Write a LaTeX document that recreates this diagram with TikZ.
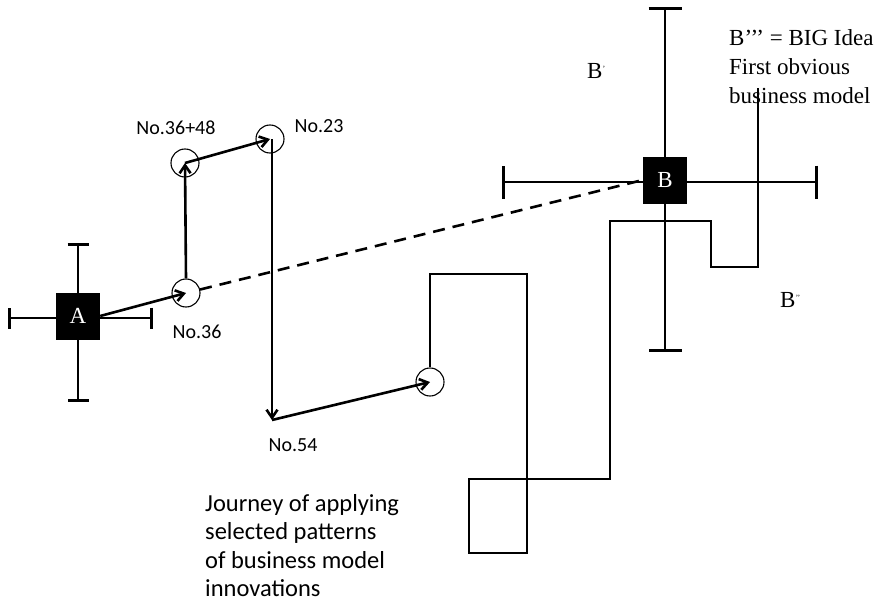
\documentclass[tikz,border=0pt]{standalone}
\usepackage{fontspec}
\setmainfont{Liberation Serif}
\newfontfamily\calfont{Carlito}
\usetikzlibrary{arrows.meta}
\begin{document}
\begin{tikzpicture}[x=1pt,y=-1pt,
  conn/.style={line width=2.6pt,line join=miter},
  arr/.style={conn,-{Straight Barb[length=8pt,width=11pt]}},
  smallbar/.style={conn,{Bar[width=21pt]}-{Bar[width=21pt]}},
  bigbar/.style={conn,{Bar[width=33pt]}-{Bar[width=33pt]}},
  box/.style={fill=black,text=white,minimum width=44pt,minimum height=47pt,inner sep=0pt,font=\fontsize{23}{24}\selectfont},
  ring/.style={circle,draw,line width=1.1pt,minimum size=28pt,inner sep=0pt},
  lbl/.style={font=\calfont\fontsize{20}{24}\selectfont,inner sep=0pt},
  serif/.style={font=\fontsize{23}{29}\selectfont,inner sep=0pt}]
\useasboundingbox (0,0) rectangle (886,610);
% crosses
\coordinate (Al) at (8,318);
\coordinate (Ar) at (153,318);
\coordinate (At) at (78,243);
\coordinate (Ab) at (78,402);
\coordinate (Bl) at (502,182);
\coordinate (Br) at (818,182);
\coordinate (Bt) at (665,7);
\coordinate (Bb) at (665,352);
\draw[smallbar] (Al) -- (Ar);
\draw[smallbar] (At) -- (Ab);
\draw[bigbar] (Bl) -- (Br);
\draw[bigbar] (Bt) -- (Bb);
% boxes
\node[box] (A) at (78,316) {A};
\node[box] (B) at (665,180) {B};
% circles
\node[ring] (n36) at (186,293) {};
\node[ring] (n3648) at (185,163) {};
\node[ring] (n23) at (270,139) {};
\node[ring] (n5) at (430,382) {};
\coordinate (n54) at (272,420);
% labels
\node[lbl] (l36) at (197,332) {No.36};
\node[lbl] (l3648) at (176,128) {No.36+48};
\node[lbl] (l23) at (319,126) {No.23};
\node[lbl] (l54) at (293,445) {No.54};
\node[serif,anchor=west] (lb1) at (587,71) {B\raisebox{7pt}{\fontsize{8}{8}\selectfont ’}};
\node[serif,anchor=west] (lb2) at (780,300) {B\raisebox{7pt}{\fontsize{8}{8}\selectfont ’’}};
\node[serif,anchor=north west,align=left] (big) at (729,29) {B’’’ = BIG Idea\\First obvious\\business model};
\node[anchor=north west,align=left,inner sep=0pt,font=\calfont\fontsize{24.5}{28.5}\selectfont] (journey) at (205,494) {Journey of applying\\selected patterns\\of business model\\innovations};
% connectors
\draw[arr] (A.east) -- (n36.center);
\draw[conn,dash pattern=on 12pt off 8pt] (n36) -- (B.west);
\draw[arr] (n36.north) -- (n3648.center);
\draw[arr] (n3648.center) -- (n23.center);
\draw[arr] ([xshift=2pt]n23.center) -- (n54);
\draw[arr] (n54) -- (n5.center);
\draw[conn] (n5.north) -- (430,274) -- (527,274) -- (527,553) -- (469,553) -- (469,479) -- (610,479) -- (610,221) -- (711,221) -- (711,267) -- (758,267) -- (758,88);
\end{tikzpicture}
\end{document}
